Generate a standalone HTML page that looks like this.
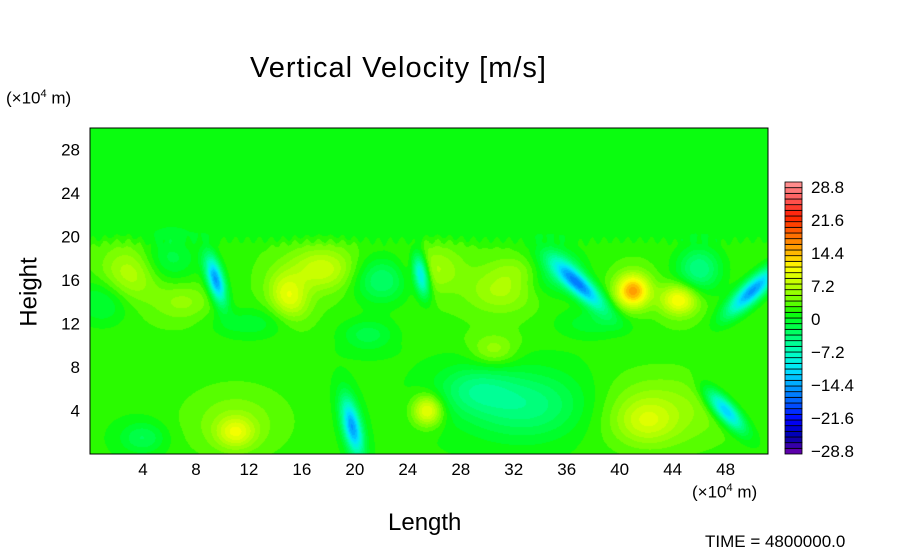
<!DOCTYPE html>
<html><head><meta charset="utf-8"><style>
body{margin:0;background:#fff;width:904px;height:544px;overflow:hidden;position:relative;font-family:"Liberation Sans",sans-serif}
.t{position:absolute;color:#000;white-space:nowrap}
</style></head><body>
<div class="t" style="left:250px;top:52px;font-size:29px;letter-spacing:1px">Vertical Velocity [m/s]</div>
<div class="t" style="left:6px;top:88px;font-size:17px">(×10<sup style="font-size:11px">4</sup> m)</div>
<div class="t" style="left:692px;top:482px;font-size:17px">(×10<sup style="font-size:11px">4</sup> m)</div>
<div class="t" style="left:388px;top:509px;font-size:24px">Length</div>
<div class="t" style="left:-5px;top:278px;font-size:24px;transform:rotate(-90deg)">Height</div>
<div class="t" style="left:705px;top:532px;font-size:17px">TIME = 4800000.0</div>
<canvas id="field" width="678" height="326" style="position:absolute;left:90px;top:128px"></canvas>
<svg id="ov" width="904" height="544" style="position:absolute;left:0;top:0"></svg>
<script>
const xTicks=[4,8,12,16,20,24,28,32,36,40,44,48];
const yTicks=[4,8,12,16,20,24,28];
const cbLabels=["28.8","21.6","14.4","7.2","0","−7.2","−14.4","−21.6","−28.8"];
const cbLabelValues=[28.8,21.6,14.4,7.2,0,-7.2,-14.4,-21.6,-28.8];
// blobs: x, y (10^4 m), value (m/s), sigma x, sigma y, angle (deg)
const blobX=[9.5,25,37,50,41,44.5,15,17.5,3,26,31,6,11,11,19.8,25.5,33,43,42,48,30.5,21,4,22,46,35,38,12,29,1,33,7];
const blobY=[16,16.5,15.5,15,15,14.2,14.5,17,16.5,17,15,18,3,2,2.5,4,4.5,4,3,4,9.5,11,1.5,16,17,17,12,12,6,14,17,14];
const blobV=[-17,-14,-17,-17,13,9,7,6,5,4,4,-4,3,6,-16,9,-6,4,4,-15,4,-4,-4,-6,-7,-6,-3,-3,-4,-4,3,3];
const blobSX=[0.45,0.4,0.6,0.6,0.9,1.0,1.0,1.8,1.5,1.5,1.8,1.5,3,1.0,0.5,0.8,3.5,4,1.5,0.55,1.2,1.5,1.2,1.5,1.2,1.5,2,2,2,1.5,1.8,1.5];
const blobSY=[1.6,1.4,2.0,2.0,1.1,1.0,1.5,1.4,1.8,1.5,1.4,1.5,2.5,1.0,1.9,1.0,2.2,2.6,1.4,1.6,1,1,1,1.5,1.5,1.5,1,1,1.5,1.5,1,1.2];
const blobA=[12,8,40,-40,0,0,15,0,0,0,0,0,0,0,10,0,0,0,0,35,0,0,0,0,0,0,0,0,0,0,0,0];
const X0=90,X1=768,Y0=454,Y1=128,XMAX=51.2,YMAX=30;
function sx(v){return X0+(X1-X0)*v/XMAX}
function sy(v){return Y0-(Y0-Y1)*v/YMAX}
const stops=[[-28.8,[110,0,170]],[-25.2,[0,0,170]],[-21.6,[0,0,255]],[-18,[0,90,255]],[-14.4,[0,160,255]],[-10.8,[0,230,255]],[-7.2,[0,255,190]],[-3.6,[0,255,110]],[0,[0,255,30]],[1.2,[20,250,0]],[3.6,[110,255,0]],[7.2,[190,255,0]],[10.8,[255,255,0]],[14.4,[255,170,0]],[18,[255,100,0]],[21.6,[255,30,0]],[25.2,[255,90,90]],[28.8,[255,150,150]]];
function cmap(v){if(v<=stops[0][0])return stops[0][1];for(let i=1;i<stops.length;i++){if(v<=stops[i][0]){const a=stops[i-1],b=stops[i],t=(v-a[0])/(b[0]-a[0]);return a[1].map((c,k)=>Math.round(c+(b[1][k]-c)*t));}}return stops[stops.length-1][1];}
function base(x,y){
  const top=1/(1+Math.exp((y-19.6-0.3*Math.sin(x*7))*6));
  const bot=1/(1+Math.exp(-(y-10)*3));
  return 0.6+1.6*top*bot+0.8*(1-bot)*top;
}
const cv=document.getElementById('field'),ctx=cv.getContext('2d');
const W=cv.width,H=cv.height,img=ctx.createImageData(W,H);
const pre=blobA.map(a=>[Math.cos(a*Math.PI/180),Math.sin(a*Math.PI/180)]);
for(let py=0;py<H;py++){const y=YMAX*(1-(py+0.5)/H);for(let px=0;px<W;px++){const x=XMAX*(px+0.5)/W;let v=base(x,y);
 for(let i=0;i<blobX.length;i++){const dx=x-blobX[i],dy=y-blobY[i],c=pre[i][0],s=pre[i][1];const u=(dx*c+dy*s)/blobSX[i],w=(-dx*s+dy*c)/blobSY[i];const e=u*u+w*w;if(e<20)v+=blobV[i]*Math.exp(-0.5*e);}
 const lv=Math.floor(v/1.2)*1.2+0.6;const col=cmap(lv);const o=(py*W+px)*4;img.data[o]=col[0];img.data[o+1]=col[1];img.data[o+2]=col[2];img.data[o+3]=255;}}
ctx.putImageData(img,0,0);
const NS='http://www.w3.org/2000/svg',svg=document.getElementById('ov');
function mk(t,a){const e=document.createElementNS(NS,t);for(const k in a)e.setAttribute(k,a[k]);svg.appendChild(e);return e;}
const fr=mk('rect',{x:X0,y:Y1,width:X1-X0,height:Y0-Y1,fill:'none',stroke:'#000','stroke-width':1});


xTicks.forEach(t=>{const l=mk('text',{x:sx(t),y:475,'font-size':17,'text-anchor':'middle','font-family':'Liberation Sans'});l.textContent=t;

});
yTicks.forEach(t=>{const l=mk('text',{x:80,y:sy(t)+6,'font-size':17,'text-anchor':'end','font-family':'Liberation Sans'});l.textContent=t;

});
const CB0=454,CB1=182,n=48;
for(let i=0;i<n;i++){const v=-28.8+1.2*(i+0.5);const c=cmap(v);const y=CB0-(i+1)*(CB0-CB1)/n;
const r=mk('rect',{x:785,y:y,width:17,height:(CB0-CB1)/n,fill:`rgb(${c})`,stroke:'#000','stroke-width':0.8});

}
cbLabels.forEach((s,i)=>{const v=cbLabelValues[i];const y=CB0-3-(v+28.8)/57.6*(CB0-CB1-8);const l=mk('text',{x:811,y:y+6,'font-size':17,'font-family':'Liberation Sans'});l.textContent=s;

});
</script>
</body></html>
